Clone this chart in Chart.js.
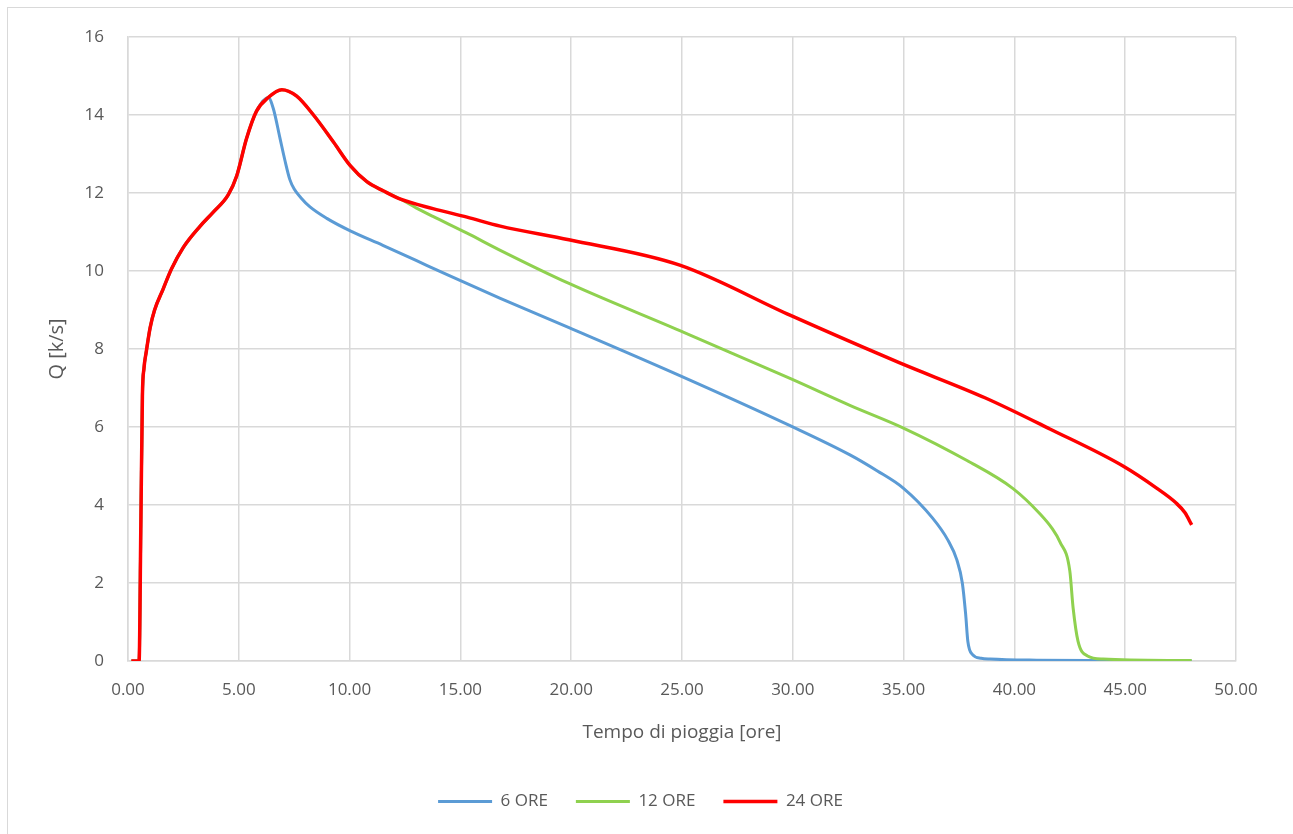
<!DOCTYPE html>
<html lang="it">
  <head>
    <meta charset="UTF-8" />
    <script src="https://cdn.jsdelivr.net/npm/chart.js@4.4.1/dist/chart.umd.min.js"></script>
    <title>Portata</title>
    <style>
      body { margin: 0; background: #fff; }
      #frame { position: absolute; left: 7px; top: 7px; width: 1290px; height: 840px; border: 1px solid #d9d9d9; }
      #wrap { position: absolute; left: 0; top: 0; width: 1293px; height: 834px; }
    </style>
  </head>
  <body>
    <div id="frame"></div>
    <div id="wrap"><canvas id="myChart" width="1293" height="834"></canvas></div>
    <script>
      // tempo [ore] e portata Q
      const t24 = [0.15, 0.5, 0.58, 0.65, 0.72, 0.83, 1.0, 1.2, 1.58, 1.96, 2.49, 3.24, 3.85, 4.52, 4.9, 5.35, 5.8, 6.33, 6.94, 7.6, 8.37, 9.28, 10.03, 10.78, 11.54, 12.3, 13.76, 15.3, 16.8, 19.9, 24.9, 29.9, 34.8, 38.67, 41.6, 44.9, 46.4, 47.3, 47.7, 48.0];
      const q24 = [0, 0, 3.5, 6.8, 7.5, 7.95, 8.55, 9.0, 9.53, 10.05, 10.6, 11.14, 11.51, 11.95, 12.43, 13.4, 14.1, 14.45, 14.65, 14.49, 14.0, 13.3, 12.7, 12.29, 12.05, 11.84, 11.6, 11.38, 11.15, 10.8, 10.15, 8.86, 7.65, 6.75, 5.95, 5.0, 4.44, 4.05, 3.8, 3.49];

      const t6 = [6.33, 6.56, 6.86, 7.08, 7.3, 7.5, 7.8, 8.2, 8.97, 10.03, 11.5, 13.0, 14.5, 16.8, 19.9, 24.9, 29.9, 32.6, 33.8, 34.97, 36.3, 37.0, 37.4, 37.65, 37.8, 37.9, 38.1, 38.5, 38.9, 41.0, 48.0];
      const q6 = [14.45, 14.16, 13.4, 12.84, 12.35, 12.1, 11.88, 11.65, 11.35, 11.03, 10.66, 10.27, 9.88, 9.3, 8.55, 7.32, 6.03, 5.28, 4.88, 4.44, 3.67, 3.1, 2.6, 2.0, 1.2, 0.5, 0.17, 0.07, 0.05, 0.02, 0];

      const t12 = [12.3, 13.0, 13.76, 15.3, 16.8, 19.9, 24.9, 29.9, 32.6, 34.97, 37.86, 39.94, 41.16, 41.7, 42.06, 42.5, 42.65, 42.87, 43.3, 44.0, 48.0];
      const q12 = [11.84, 11.62, 11.4, 10.97, 10.53, 9.68, 8.47, 7.24, 6.55, 5.98, 5.14, 4.42, 3.77, 3.4, 3.05, 2.31, 1.36, 0.51, 0.13, 0.05, 0.01];

      const seriesNames = ["6 ORE", "12 ORE", "24 ORE"];
      const seriesColors = ["#5b9bd5", "#8fd14f", "#ff0000"];

      // le serie 6 e 12 ore seguono la 24 ore fino al distacco
      function series(t, q) {
        const pts = [];
        for (let i = 0; i < t24.length; i++) {
          if (t24[i] < t[0]) pts.push({ x: t24[i], y: q24[i] });
        }
        for (let i = 0; i < t.length; i++) pts.push({ x: t[i], y: q[i] });
        return pts;
      }
      const pts24 = t24.map((x, i) => ({ x: x, y: q24[i] }));

      const font = "'Open Sans', 'Liberation Sans', sans-serif";
      const grey = "#595959";

      const ctx = document.getElementById("myChart").getContext("2d");
      new Chart(ctx, {
        type: "scatter",
        data: {
          datasets: [
            { label: seriesNames[0], data: series(t6, q6), borderColor: seriesColors[0], backgroundColor: seriesColors[0], borderWidth: 3, order: 3 },
            { label: seriesNames[1], data: series(t12, q12), borderColor: seriesColors[1], backgroundColor: seriesColors[1], borderWidth: 3, order: 2 },
            { label: seriesNames[2], data: pts24, borderColor: seriesColors[2], backgroundColor: seriesColors[2], borderWidth: 3.5, order: 1 },
          ],
        },
        options: {
          responsive: false,
          animation: false,
          showLine: true,
          elements: {
            point: { radius: 0, hoverRadius: 0 },
            line: { cubicInterpolationMode: "monotone" },
          },
          layout: { padding: { left: 45, right: 57, top: 37, bottom: 14 } },
          plugins: {
            tooltip: { enabled: false },
            legend: {
              position: "bottom",
              labels: {
                usePointStyle: true,
                pointStyle: "line",
                pointStyleWidth: 54,
                color: grey,
                font: { family: font, size: 17 },
                padding: 28,
                sort: (a, b) => a.datasetIndex - b.datasetIndex,
              },
            },
          },
          scales: {
            x: {
              type: "linear",
              min: 0,
              max: 50,
              afterFit: (s) => { s.height = 104; },
              ticks: {
                stepSize: 5,
                color: grey,
                font: { family: font, size: 17 },
                padding: 19,
                callback: (v) => v.toFixed(2),
              },
              grid: { color: "#d9d9d9", lineWidth: 1.5, drawTicks: false },
              border: { color: "#d9d9d9", width: 1.5 },
              title: { display: true, text: "Tempo di pioggia [ore]", color: grey, font: { family: font, size: 19 }, padding: { top: 0, bottom: 21 } },
            },
            y: {
              min: 0,
              max: 16,
              afterFit: (s) => { s.width = 83; },
              ticks: {
                stepSize: 2,
                color: grey,
                font: { family: font, size: 17 },
                padding: 24,
              },
              grid: { color: "#d9d9d9", lineWidth: 1.5, drawTicks: false },
              border: { color: "#d9d9d9", width: 1.5 },
              title: { display: true, text: "Q [k/s]", color: grey, font: { family: font, size: 20 }, padding: { top: 0, bottom: 0 } },
            },
          },
        },
      });
    </script>
  </body>
</html>
